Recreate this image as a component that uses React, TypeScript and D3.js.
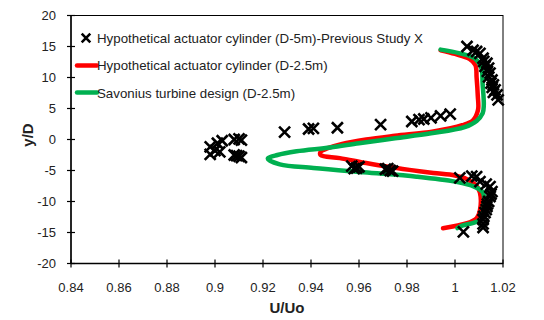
import React from 'react';
import * as d3 from 'd3';

// U/Uo vs y/D profiles
const cylinderCurve: [number, number][] = [
  [0.994, 14.4], [1.0, 13.8], [1.006, 13.0], [1.0085, 12.0], [1.009, 10.0], [1.0095, 7.0],
  [1.0096, 4.8], [1.0075, 3.1], [1.003, 2.3], [0.991, 1.3], [0.975, 0.6], [0.963, 0.0],
  [0.953, -0.7], [0.947, -1.4], [0.944, -2.0], [0.944, -2.5], [0.952, -3.0], [0.963, -3.8],
  [0.972, -4.4], [0.981, -4.9], [0.991, -5.4], [1.0, -5.8], [1.005, -6.4], [1.009, -7.5],
  [1.0104, -8.6], [1.0104, -11.4], [1.009, -12.7], [1.005, -13.5], [0.995, -14.3],
];

const savoniusCurve: [number, number][] = [
  [0.994, 14.5], [1.002, 13.9], [1.0085, 13.0], [1.011, 11.5], [1.0115, 9.0], [1.012, 5.5],
  [1.0115, 4.2], [1.009, 3.0], [1.004, 2.0], [0.99, 1.0], [0.975, 0.2], [0.96, -0.6],
  [0.948, -1.3], [0.934, -1.9], [0.926, -2.5], [0.922, -3.1], [0.927, -4.0], [0.941, -4.6],
  [0.962, -5.3], [0.984, -6.0], [1.0, -6.8], [1.008, -7.6], [1.0117, -8.6], [1.0117, -11.5],
  [1.011, -12.8], [1.008, -13.4], [1.003, -13.9], [1.001, -14.3],
];

const previousStudy: [number, number][] = [
  // left clusters
  [0.898, -1.2], [0.901, -0.6], [0.903, -0.2], [0.9, -1.8], [0.898, -2.4], [0.902, -2.0],
  [0.908, 0.0], [0.91, 0.1], [0.911, -0.1], [0.909, -2.6], [0.911, -2.9], [0.91, -2.7], [0.908, -2.5],
  // upper row
  [0.929, 1.2], [0.939, 1.7], [0.941, 1.8], [0.951, 1.9], [0.969, 2.4], [0.982, 2.9],
  [0.985, 3.2], [0.987, 3.3], [0.99, 3.5], [0.994, 3.8], [0.998, 4.1],
  // middle clusters
  [0.957, -4.3], [0.959, -4.6], [0.96, -4.4], [0.958, -4.7],
  [0.971, -4.8], [0.973, -5.0], [0.972, -4.7], [0.974, -5.1],
  // right column top
  [1.005, 15.0], [1.0075, 14.4], [1.009, 14.2], [1.0104, 13.9], [1.0117, 13.1], [1.012, 12.6],
  [1.0133, 12.3], [1.0125, 11.8], [1.014, 11.5], [1.0135, 11.0], [1.0146, 10.7], [1.014, 10.1],
  [1.0154, 9.6], [1.015, 9.1], [1.016, 8.8], [1.0155, 8.4], [1.0167, 8.0], [1.016, 7.6],
  [1.0175, 7.2], [1.018, 6.4],
  // right column bottom
  [1.002, -6.2], [1.007, -5.9], [1.009, -6.0], [1.0104, -6.8], [1.013, -7.2], [1.0146, -7.6],
  [1.0154, -8.4], [1.015, -8.8], [1.0146, -9.2], [1.014, -10.0], [1.0135, -10.4], [1.0133, -10.8],
  [1.013, -11.3], [1.0125, -11.8], [1.012, -12.4], [1.0117, -12.9], [1.0117, -13.6],
  [1.0117, -14.2], [1.0035, -14.9],
];

const xTicks = [0.84, 0.86, 0.88, 0.9, 0.92, 0.94, 0.96, 0.98, 1, 1.02];
const yTicks = [-20, -15, -10, -5, 0, 5, 10, 15, 20];

const legendLabels = [
  'Hypothetical actuator cylinder (D-5m)-Previous Study X',
  'Hypothetical actuator cylinder (D-2.5m)',
  'Savonius turbine design (D-2.5m)',
];

const font = "'Liberation Sans', Arial, sans-serif";

export default function App() {
  const width = 544;
  const height = 320;
  const left = 71, right = 503, top = 15.5, bottom = 263.5;

  const x = d3.scaleLinear().domain([0.84, 1.02]).range([left, right]);
  const y = d3.scaleLinear().domain([-20, 20]).range([bottom, top]);

  const line = d3.line<[number, number]>()
    .x(d => x(d[0]))
    .y(d => y(d[1]))
    .curve(d3.curveCatmullRom.alpha(0.5));

  const cross = (cx: number, cy: number, s: number, w: number, key: string | number) => (
    <path key={key} d={`M${cx - s},${cy - s}L${cx + s},${cy + s}M${cx - s},${cy + s}L${cx + s},${cy - s}`}
      stroke="#000" strokeWidth={w} fill="none" />
  );

  return (
    <svg width={width} height={height} style={{ position: 'absolute', left: 0, top: 0, background: '#fff' }}>
      <rect x={left} y={top} width={right - left} height={bottom - top} fill="#fff" stroke="#000" strokeWidth={1} />

      {xTicks.map(t => (
        <g key={'x' + t}>
          <line x1={x(t)} x2={x(t)} y1={bottom - 4} y2={bottom + 4} stroke="#000" strokeWidth={1.2} />
          <text x={x(t)} y={291.5} textAnchor="middle" fontFamily={font} fontSize={13} fill="#222">{String(t)}</text>
        </g>
      ))}
      {yTicks.map(t => (
        <g key={'y' + t}>
          <line x1={left - 4} x2={left + 4} y1={y(t)} y2={y(t)} stroke="#000" strokeWidth={1.2} />
          <text x={56} y={y(t) + 4.5} textAnchor="end" fontFamily={font} fontSize={13} fill="#222">{String(t)}</text>
        </g>
      ))}
      <line x1={left} x2={right} y1={bottom} y2={bottom} stroke="#000" strokeWidth={1.4} />
      <line x1={left} x2={left} y1={top} y2={bottom} stroke="#000" strokeWidth={1.4} />

      <path d={line(cylinderCurve) || ''} fill="none" stroke="#ff0000" strokeWidth={4.5} strokeLinejoin="round" strokeLinecap="round" />
      <path d={line(savoniusCurve) || ''} fill="none" stroke="#00b050" strokeWidth={4.5} strokeLinejoin="round" strokeLinecap="round" />
      {previousStudy.map((d, i) => cross(x(d[0]), y(d[1]), 5.5, 2.6, i))}

      {/* legend */}
      {cross(86, 38, 4.3, 2.6, 'lg')}
      <line x1={77} x2={97} y1={65.5} y2={65.5} stroke="#ff0000" strokeWidth={4.5} strokeLinecap="round" />
      <line x1={77} x2={97} y1={92.5} y2={92.5} stroke="#00b050" strokeWidth={4.5} strokeLinecap="round" />
      {legendLabels.map((l, i) => (
        <text key={l} x={97} y={43 + i * 27.3} fontFamily={font} fontSize={13.3} fill="#222">{l}</text>
      ))}

      <text x={287} y={313} textAnchor="middle" fontFamily={font} fontSize={15} fontWeight="bold" fill="#222">U/Uo</text>
      <text transform="translate(33,135) rotate(-90)" textAnchor="middle" fontFamily={font} fontSize={15} fontWeight="bold" fill="#222">y/D</text>
    </svg>
  );
}
